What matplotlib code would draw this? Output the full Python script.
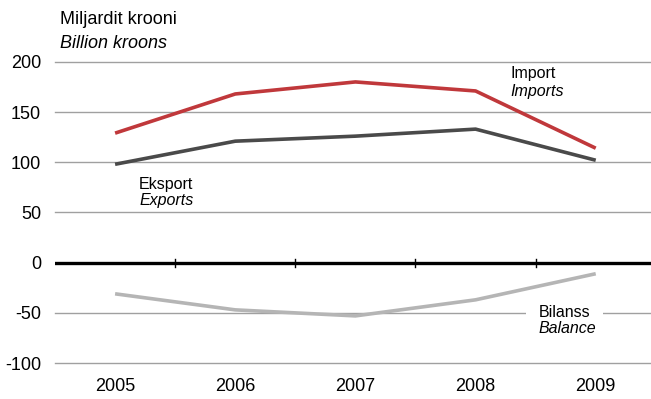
import matplotlib
matplotlib.use("Agg")
import matplotlib.pyplot as plt
import numpy as np

plt.rcParams['font.family'] = ['Liberation Sans', 'DejaVu Sans']

years = [2005, 2006, 2007, 2008, 2009]
imports = [129, 168, 180, 171, 114]
exports = [98, 121, 126, 133, 102]
balance = [-31, -47, -53, -37, -11]
yticks = [-100, -50, 0, 50, 100, 150, 200]

fig = plt.figure(figsize=(6.51, 3.99), dpi=100)
ax = fig.add_axes([0.0845, 0.090, 0.9155, 0.755])
ax.set_xlim(2004.5, 2009.46)
ax.set_ylim(-100, 200)

for y in yticks:
    if y == 0:
        continue
    ax.axhline(y, color='#a0a0a0', lw=1.0, zorder=1, clip_on=False)
ax.axhline(0, color='black', lw=2.4, zorder=3)
for x in np.array(years[:-1]) + 0.5:
    ax.plot([x, x], [-4, 4], color='black', lw=1.0, zorder=3)

ax.plot(years, imports, color='#c0383b', lw=2.6, zorder=4, solid_capstyle='butt')
ax.plot(years, exports, color='#4a4a4a', lw=2.6, zorder=4, solid_capstyle='butt')
ax.plot(years, balance, color='#b5b5b5', lw=2.6, zorder=4, solid_capstyle='butt')

for s in ax.spines.values():
    s.set_visible(False)
ax.set_yticks(yticks)
ax.set_yticklabels([str(v) for v in yticks], fontsize=13)
ax.set_xticks(years)
ax.set_xticklabels([str(v) for v in years], fontsize=13)
ax.tick_params(axis='both', length=0)
ax.tick_params(axis='y', pad=10)
ax.tick_params(axis='x', pad=11)

fig.text(0.092, 0.950, 'Miljardit krooni', fontsize=13, va='center')
fig.text(0.092, 0.890, 'Billion kroons', fontsize=13, va='center', style='italic')

ax.text(2008.29, 188, 'Import', fontsize=11.5, va='center')
ax.text(2008.29, 170, 'Imports', fontsize=11.5, va='center', style='italic')
ax.text(2005.20, 78, 'Eksport', fontsize=11.5, va='center')
ax.text(2005.20, 62, 'Exports', fontsize=11.5, va='center', style='italic')
ax.text(2008.525, -50, 'Bilanss', fontsize=11.5, va='center', zorder=5,
        bbox=dict(facecolor='white', edgecolor='none', pad=9))
ax.text(2008.525, -66, 'Balance', fontsize=11.5, va='center', style='italic', zorder=5)

fig.savefig('out.png', dpi=100)
